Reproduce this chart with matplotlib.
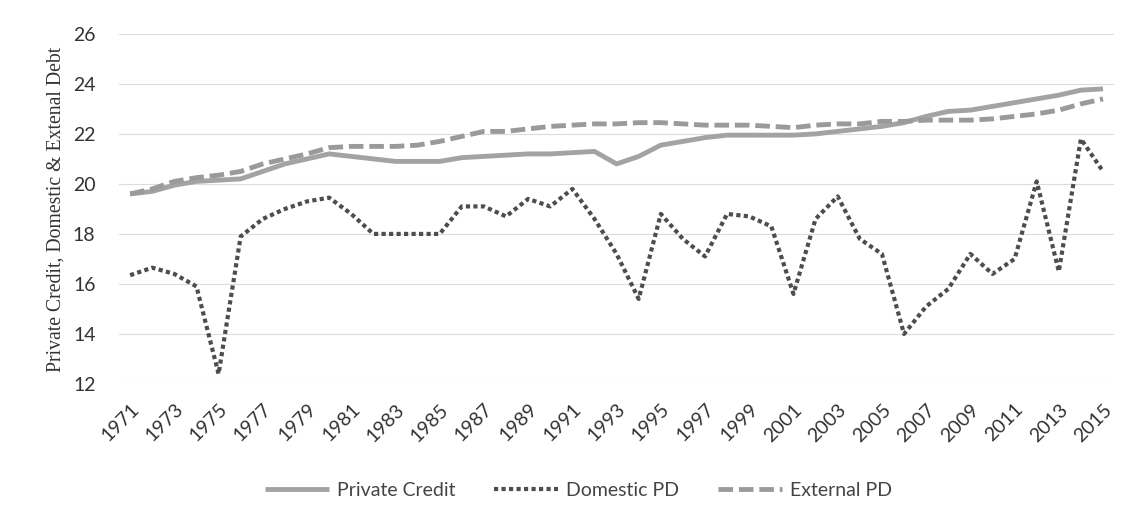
import numpy as np
import matplotlib.pyplot as plt

years = list(range(1971, 2016))

private_credit = [19.6, 19.7, 19.95, 20.1, 20.15, 20.2, 20.5, 20.8, 21.0, 21.2,
                  21.1, 21.0, 20.9, 20.9, 20.9, 21.05, 21.1, 21.15, 21.2, 21.2,
                  21.25, 21.3, 20.8, 21.1, 21.55, 21.7, 21.85, 21.95, 21.95, 21.95,
                  21.95, 22.0, 22.1, 22.2, 22.3, 22.45, 22.7, 22.9, 22.95, 23.1,
                  23.25, 23.4, 23.55, 23.75, 23.8]

domestic_pd = [16.35, 16.65, 16.4, 15.9, 12.4, 17.9, 18.6, 19.0, 19.3, 19.45,
               18.8, 18.0, 18.0, 18.0, 18.0, 19.1, 19.1, 18.7, 19.4, 19.1,
               19.8, 18.6, 17.2, 15.4, 18.8, 17.8, 17.1, 18.8, 18.7, 18.3,
               15.6, 18.6, 19.5, 17.8, 17.2, 14.0, 15.1, 15.8, 17.2, 16.4,
               17.0, 20.1, 16.5, 21.8, 20.5]

external_pd = [19.6, 19.8, 20.1, 20.25, 20.35, 20.5, 20.8, 21.0, 21.2, 21.45,
               21.5, 21.5, 21.5, 21.55, 21.7, 21.9, 22.1, 22.1, 22.2, 22.3,
               22.35, 22.4, 22.4, 22.45, 22.45, 22.4, 22.35, 22.35, 22.35, 22.3,
               22.25, 22.35, 22.4, 22.4, 22.5, 22.5, 22.55, 22.55, 22.55, 22.6,
               22.7, 22.8, 22.95, 23.2, 23.4]

fig = plt.figure(figsize=(11.45, 5.21), dpi=100)
ax = fig.add_axes([0.104, 0.263, 0.869, 0.672])

ax.plot(years, private_credit, color='#a3a3a3', lw=3.5, solid_capstyle='butt',
        label='Private Credit', zorder=3)
ax.plot(years, domestic_pd, color='#4d4d4d', lw=3, linestyle=(0, (1, 0.8)),
        dash_capstyle='butt', label='Domestic PD', zorder=4)
ax.plot(years, external_pd, color='#9a9a9a', lw=3.5, linestyle=(0, (3, 1.2)),
        dash_capstyle='butt', label='External PD', zorder=3)

ax.set_xlim(1970.5, 2015.5)
ax.set_ylim(12, 26)
ax.set_yticks(np.arange(12, 27, 2))
ax.set_yticklabels([str(v) for v in range(12, 27, 2)], fontsize=14, family='Lato',
                   color='#333333')
ax.set_xticks(years[::2])
ax.set_xticklabels([str(y) for y in years[::2]], rotation=45, ha='right',
                   rotation_mode='anchor', fontsize=14, family='Lato', color='#333333')
ax.tick_params(axis='x', length=0, pad=12)
ax.tick_params(axis='y', length=0, pad=17)
ax.grid(axis='y', color='#dcdcdc', lw=0.8)
ax.set_axisbelow(True)
for s in ax.spines.values():
    s.set_visible(False)

ax.set_ylabel('Private Credit, Domestic & Extenal Debt', family='Liberation Serif',
              fontsize=14.2, color='#333333', labelpad=5)

fig.legend(loc='center', bbox_to_anchor=(0.505, 0.058), ncol=3, frameon=False,
           prop={'family': 'Lato', 'size': 14}, handlelength=3.3, handletextpad=0.4,
           columnspacing=2.0, labelcolor='#444444')

fig.savefig('out.png', dpi=100)
